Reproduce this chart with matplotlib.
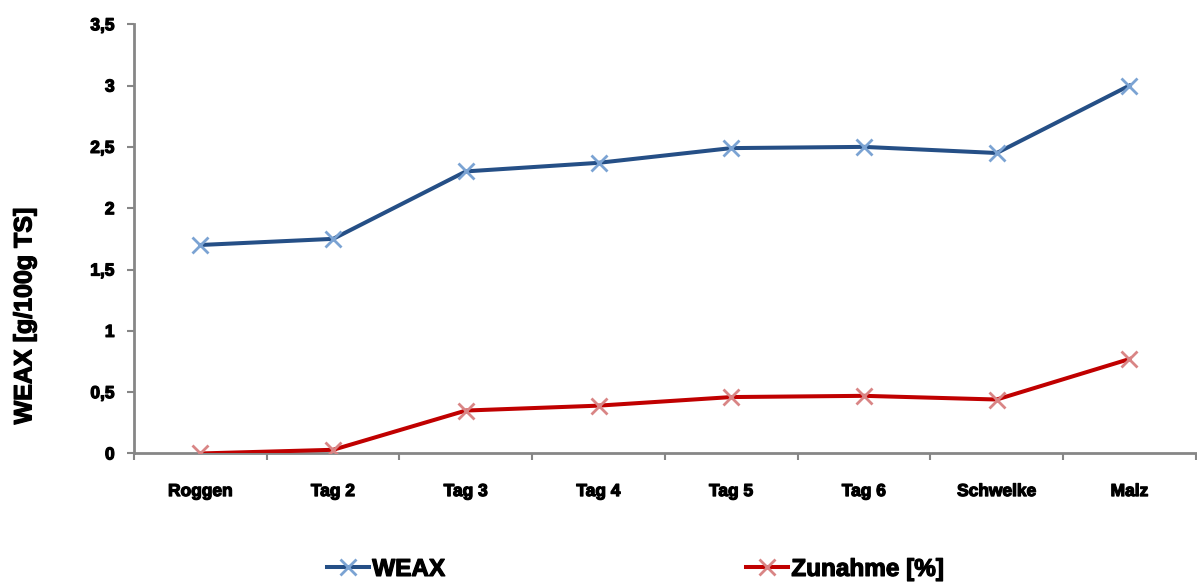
import matplotlib
matplotlib.use("Agg")
import matplotlib.pyplot as plt
import matplotlib.patheffects as pe
from matplotlib.ticker import FuncFormatter, FixedLocator

categories = ["Roggen", "Tag 2", "Tag 3", "Tag 4", "Tag 5", "Tag 6", "Schwelke", "Malz"]
weax = [1.70, 1.75, 2.30, 2.37, 2.49, 2.50, 2.45, 3.00]
zunahme = [0.00, 0.03, 0.35, 0.39, 0.46, 0.47, 0.44, 0.77]
y_ticks = [0, 0.5, 1, 1.5, 2, 2.5, 3, 3.5]

plt.rcParams["font.family"] = ["Liberation Sans", "DejaVu Sans"]
plt.rcParams["font.weight"] = "bold"

heavy = [pe.withStroke(linewidth=0.9, foreground="black")]

fig = plt.figure(figsize=(11.97, 5.84), dpi=100)
ax = fig.add_axes([0.112, 0.2235, 0.887, 0.735])

x = list(range(len(categories)))
l1, = ax.plot(x, weax, color="#254F86", lw=2.9, marker="x", ms=12,
              mec="#7BA3D3", mew=2.0, label="WEAX", zorder=3)
l2, = ax.plot(x, zunahme, color="#C00000", lw=2.9, marker="x", ms=12,
              mec="#D98585", mew=2.0, label="Zunahme [%]", zorder=3)

ax.set_xlim(-0.5, len(categories) - 0.5)
ax.set_ylim(0, 3.5)
ax.set_yticks(y_ticks)
ax.yaxis.set_major_formatter(FuncFormatter(lambda v, p: f"{v:g}".replace(".", ",")))

ax.set_xticks(x)
ax.set_xticklabels(categories, fontsize=12.5, fontweight="bold")
ax.xaxis.set_minor_locator(FixedLocator([i - 0.5 for i in range(len(categories) + 1)]))
ax.tick_params(axis="x", which="major", length=0, pad=22)
ax.tick_params(axis="x", which="minor", length=5, width=1.5, color="#868686", direction="out")
ax.tick_params(axis="y", length=5, width=1.5, color="#868686", direction="out", labelsize=12.5, pad=9)
for lbl in ax.get_yticklabels() + ax.get_xticklabels():
    lbl.set_fontweight("bold")
    lbl.set_path_effects(heavy)

for s in ["top", "right"]:
    ax.spines[s].set_visible(False)
for s in ["left", "bottom"]:
    ax.spines[s].set_color("#868686")
    ax.spines[s].set_linewidth(2)

ylab = ax.set_ylabel("WEAX [g/100g TS]", fontsize=18, fontweight="bold")
ylab.set_path_effects(heavy)
ax.yaxis.set_label_coords(-0.092, 0.32)

leg = fig.legend(handles=[l1, l2], loc="center", bbox_to_anchor=(0.531, 0.025), ncol=2,
                 frameon=False, prop={"size": 17.5, "weight": "bold"}, columnspacing=12.4,
                 handlelength=1.7, handletextpad=0.15)
for t in leg.get_texts():
    t.set_path_effects(heavy)

fig.savefig("out.png", dpi=100)
